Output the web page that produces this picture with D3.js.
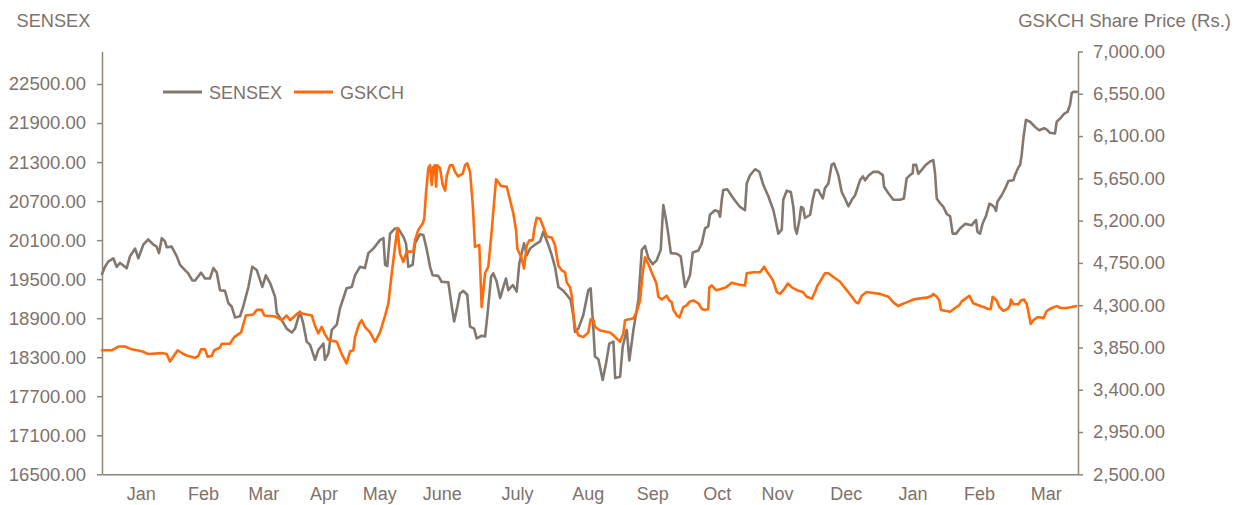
<!DOCTYPE html>
<html><head><meta charset="utf-8">
<script src="https://cdn.jsdelivr.net/npm/d3@7"></script>
<style>
html,body{margin:0;padding:0;background:#fff;}
svg{display:block;font-family:"Liberation Sans",Arial,sans-serif;}
</style>
</head><body>
<svg id="chart" width="1242" height="505"></svg>
<script>
// ---------- data ----------
const startDate = "2013-01-01";
const endDate = "2014-03-31";
const monthLabels = ["Jan","Feb","Mar","Apr","May","June","July","Aug","Sep","Oct","Nov","Dec","Jan","Feb","Mar"];
const monthTickDates = ["2013-01-19","2013-02-17","2013-03-17","2013-04-14","2013-05-10","2013-06-08","2013-07-13","2013-08-15","2013-09-14","2013-10-14","2013-11-11","2013-12-13","2014-01-13","2014-02-13","2014-03-16"];
const leftTicks = [16500,17100,17700,18300,18900,19500,20100,20700,21300,21900,22500];
const rightTicks = [2500,2950,3400,3850,4300,4750,5200,5650,6100,6550,7000];
const leftTitle = "SENSEX";
const rightTitle = "GSKCH Share Price (Rs.)";
const seriesNames = ["SENSEX","GSKCH"];

// [days since startDate, value]
const sensexData = [[0,19580],[1.4,19690],[2.9,19770],[5.3,19820],[6.8,19690],[8.4,19750],[11.5,19670],[13,19850],[15.4,19970],[16.9,19820],[19.2,20030],[21.5,20110],[23.9,20030],[25.4,20000],[26.5,19900],[27.8,20130],[29.3,20080],[30.1,19990],[32.4,20000],[34.8,19850],[36.3,19720],[38.6,19640],[40.1,19590],[42,19480],[43.3,19480],[46.1,19600],[47.9,19510],[50.2,19510],[51.8,19670],[53.4,19600],[54.9,19330],[57.2,19320],[58.8,19130],[60.3,19080],[61.9,18910],[64.2,18930],[65.7,19080],[68.1,19380],[69.9,19690],[72,19640],[73.5,19490],[74.6,19380],[76.2,19560],[78.2,19440],[80.5,19230],[81.3,18980],[83.6,18870],[85.9,18740],[88.3,18680],[89.8,18740],[92.1,19000],[93.6,18820],[95.2,18540],[96.8,18490],[99.1,18260],[100.6,18410],[103,18510],[103.7,18260],[105.3,18360],[106.9,18720],[109.2,18800],[110.7,19050],[112.3,19210],[113.8,19360],[116.2,19380],[117.7,19560],[120,19690],[122.3,19670],[123.9,19900],[126.2,19970],[129.3,20100],[130.9,20130],[131.7,19720],[132.7,19700],[134,20200],[136.3,20280],[137.8,20280],[140.2,20150],[141.4,20050],[142.5,19690],[144.5,19720],[145.6,20050],[147.9,20190],[149.5,20180],[151.1,19950],[152.6,19690],[153.8,19560],[156.4,19550],[158,19460],[161.1,19450],[162.7,19080],[163.8,18850],[165.3,19080],[166.5,19280],[168.1,19320],[169.9,19260],[171.2,18770],[173.1,18740],[174.3,18590],[176.6,18630],[178.2,18620],[179.2,18920],[181,19540],[182,19590],[183.6,19460],[185.2,19210],[186.7,19380],[187.9,19510],[189,19330],[191.1,19410],[192.9,19310],[194.1,19740],[196.3,20050],[197.6,19870],[199.1,19970],[201.4,20030],[203.8,20080],[205.3,20230],[207.6,20030],[209.2,19870],[210.7,19690],[212.3,19380],[214.3,19330],[216.2,19260],[218,19180],[219.3,18920],[220,18690],[221.6,18740],[223.9,18950],[226.2,19330],[227.3,19360],[228.6,18720],[229.3,18310],[230.9,18270],[232.9,17950],[234.5,18210],[236,18510],[237.9,18540],[238.7,17980],[241,18000],[242.2,18460],[244.1,18720],[245.3,18250],[247.2,18720],[249.5,19180],[251.1,19950],[252.6,20010],[254.1,19830],[256.2,19730],[258,19790],[259.9,19950],[261.1,20640],[262.4,20410],[263.4,20200],[264.6,19900],[267.4,19890],[269.2,19850],[271.2,19380],[273.5,19560],[274.8,19910],[277.4,19940],[279,20050],[280.5,20280],[282,20310],[282.8,20490],[285.1,20560],[286.7,20540],[287.5,20460],[288.3,20720],[289,20870],[290.9,20880],[293.7,20740],[296.8,20610],[299.1,20560],[299.9,20970],[301.5,21100],[303.8,21190],[305.8,21150],[307.6,20950],[310,20770],[312.3,20560],[313.5,20380],[314.6,20200],[316.2,20260],[316.9,20720],[318.5,20860],[320.4,20840],[321.6,20610],[322.4,20280],[323.2,20200],[324.4,20410],[325.2,20610],[326.2,20590],[327,20440],[329.4,20490],[330.6,20720],[331.7,20870],[333.2,20870],[335.3,20740],[336.3,20900],[337.9,20970],[339.4,21260],[340.5,21280],[342.5,21100],[343.3,20970],[344.1,20840],[345.6,20740],[347.2,20620],[348.8,20720],[350.3,20790],[352.6,21020],[353.9,21080],[355,21020],[356.5,21090],[358.8,21150],[361.1,21150],[363.2,21100],[363.8,20920],[365.8,20820],[368.1,20720],[371.2,20720],[373,20740],[374.3,21050],[375.9,21100],[377.1,21130],[377.4,21260],[378.7,21260],[379.7,21120],[381.3,21180],[383.3,21260],[385.2,21310],[386.7,21330],[387.5,21130],[388.3,20740],[389.8,20670],[391.4,20610],[393,20500],[394.5,20470],[395.7,20200],[397.3,20200],[399.1,20280],[401.5,20350],[404.6,20330],[405.7,20380],[406.6,20410],[407.2,20230],[408.4,20200],[409.7,20360],[411.2,20470],[412.8,20660],[413.9,20640],[415,20610],[415.9,20550],[416.5,20690],[418.5,20790],[420.5,20920],[421.6,21010],[423.9,21020],[424.7,21100],[426.3,21220],[427.1,21260],[427.8,21410],[428.6,21670],[429.8,21950],[431.7,21920],[434,21840],[436,21790],[438.2,21820],[439.5,21800],[441,21750],[443.3,21740],[444.1,21920],[445.7,21970],[447.5,22040],[449.1,22070],[450.3,22180],[451.1,22360],[451.9,22380],[453.4,22380]];

const gskchData = [[0,3820],[4.5,3820],[7.6,3860],[10.7,3860],[13.8,3830],[18.5,3810],[21.5,3780],[27.8,3790],[30.1,3780],[31.6,3700],[35.2,3820],[37.8,3780],[40.1,3760],[43.3,3740],[44.8,3760],[46.1,3830],[47.9,3830],[49.2,3750],[51,3760],[52.2,3820],[54.9,3850],[55.7,3890],[59.5,3890],[61.5,3960],[64.7,4010],[66.9,4190],[70.4,4200],[72,4250],[74.3,4250],[75.5,4190],[80.5,4180],[83.6,4140],[85.9,4190],[87.5,4140],[91.3,4220],[97.6,4190],[99.1,4080],[100.6,4000],[102.2,4070],[103.7,3990],[105.3,3930],[109.2,3910],[111.5,3780],[113.8,3680],[115.4,3810],[116.9,3820],[117.7,3960],[119.6,4100],[120.8,4140],[122.3,4070],[124.7,4010],[127,3910],[129.3,4010],[131.7,4190],[133.2,4320],[134.8,4640],[136.3,4920],[137.4,5120],[138.6,4850],[140.2,4760],[141.7,4870],[144.8,4870],[145.6,4990],[147.1,5100],[149.2,5170],[149.9,5220],[150.7,5490],[151.8,5760],[152.6,5790],[153.4,5580],[154.1,5770],[154.9,5790],[155.4,5560],[156,5790],[157.2,5760],[158.5,5580],[159.6,5520],[160.4,5680],[161.9,5790],[163.1,5790],[164.2,5720],[165.7,5670],[167.8,5700],[168.9,5790],[169.9,5810],[171.2,5720],[172.5,5360],[173.5,4920],[175.5,4940],[176.6,4280],[178.2,4640],[179.7,4710],[181.3,5100],[183.3,5640],[184.4,5610],[185.5,5570],[188.3,5560],[189.8,5420],[191.3,5280],[192.6,5100],[193.2,4900],[195.2,4800],[196.3,4690],[197.6,4940],[198.8,4990],[200.4,4990],[201,5100],[202.2,5230],[203.8,5220],[205.3,5130],[206.9,5030],[209.2,5020],[210.7,4940],[212.3,4720],[213.9,4670],[215.4,4650],[216.2,4540],[217.7,4490],[218.5,4400],[219.3,4210],[220,4070],[221.6,3980],[223.9,3960],[226.2,4010],[227.3,4150],[228.6,4140],[229.3,4070],[231.7,4030],[236.3,4010],[237.9,3980],[241,3910],[242.5,4000],[243.3,4140],[247.2,4160],[248.7,4230],[250.3,4350],[251.5,4640],[252.6,4810],[254.1,4740],[255.7,4650],[257.9,4530],[258.8,4390],[260.4,4360],[262.7,4400],[263.9,4350],[265,4330],[265.8,4250],[267.4,4190],[268.6,4170],[270.4,4280],[272,4300],[273.5,4340],[275.1,4350],[277.4,4320],[279,4260],[280.5,4250],[282,4260],[282.5,4490],[283.6,4510],[285.6,4460],[287.5,4470],[290.3,4490],[292.9,4540],[296,4520],[299.1,4510],[299.9,4640],[303,4650],[306.1,4650],[308,4710],[309.2,4660],[311.1,4600],[312.3,4550],[313.9,4440],[315.4,4420],[317.3,4470],[319,4530],[320.9,4490],[323.2,4460],[326,4440],[327.8,4390],[330.2,4370],[331.7,4440],[332.8,4510],[334,4550],[336.3,4640],[337.9,4640],[340.2,4600],[343.3,4550],[346.4,4460],[348.8,4390],[350.7,4330],[351.8,4320],[353.4,4400],[355.7,4440],[358.8,4430],[361.9,4420],[365.8,4390],[368.1,4330],[370.4,4290],[372,4310],[374.3,4330],[377.4,4360],[379.7,4370],[383.6,4380],[386,4400],[386.7,4420],[388.3,4390],[389.5,4350],[390.2,4250],[392.2,4240],[394.5,4230],[396.8,4270],[398.8,4300],[399.9,4340],[402.3,4380],[403.5,4400],[405.3,4320],[407.7,4300],[410,4280],[412.3,4260],[413.4,4260],[414.3,4390],[416.2,4350],[417.4,4280],[419.3,4240],[421.2,4260],[422.4,4300],[422.8,4360],[424,4310],[426.3,4310],[427.4,4350],[428.9,4360],[430.2,4310],[430.9,4230],[432,4100],[433.2,4140],[435.1,4170],[436.7,4170],[437.9,4160],[439.5,4240],[441.8,4270],[444.1,4290],[446,4270],[448.8,4270],[451.1,4280],[453.1,4290]];

// ---------- layout / style ----------
const W = 1242, H = 505;
const plot = {left: 102, right: 1078, top: 51.5, bottom: 474.3};
const textColor = "#7d726b";
const axisColor = "#8e847c";
const sensexColor = "#83786f";
const gskchColor = "#ff6b0b";

const svg = d3.select("#chart");
const parse = d3.utcParse("%Y-%m-%d");
const t0 = parse(startDate);
const toDate = d => new Date(t0.getTime() + d * 864e5);

const x = d3.scaleUtc().domain([t0, parse(endDate)]).range([plot.left, plot.right]);
const yL = d3.scaleLinear().domain([16500, 23000]).range([plot.bottom, plot.top]);
const yR = d3.scaleLinear().domain([2500, 7000]).range([plot.bottom, plot.top]);

function styleAxis(g, size) {
  g.selectAll(".domain").attr("stroke", axisColor).attr("stroke-width", 1.5);
  g.selectAll(".tick line").attr("stroke", axisColor).attr("stroke-width", 1.5);
  g.selectAll("text").attr("fill", textColor).attr("font-size", size)
    .attr("font-family", '"Liberation Sans", Arial, sans-serif');
}

// bottom axis
const gx = svg.append("g").attr("transform", `translate(0,${plot.bottom})`)
  .call(d3.axisBottom(x).tickValues(monthTickDates.map(parse))
    .tickFormat((d, i) => monthLabels[i]).tickSize(0).tickSizeOuter(0).tickPadding(13));
styleAxis(gx, 18);

// left axis
const gl = svg.append("g").attr("transform", `translate(${plot.left},0)`)
  .call(d3.axisLeft(yL).tickValues(leftTicks).tickFormat(d3.format(".2f"))
    .tickSize(5).tickSizeOuter(0).tickPadding(11));
styleAxis(gl, 18.5);

// right axis
const gr = svg.append("g").attr("transform", `translate(${plot.right},0)`)
  .call(d3.axisRight(yR).tickValues(rightTicks).tickFormat(d3.format(",.2f"))
    .tickSize(5).tickSizeOuter(0).tickPadding(10));
styleAxis(gr, 18.5);

// lines
const lineL = d3.line().x(d => x(toDate(d[0]))).y(d => yL(d[1]));
const lineR = d3.line().x(d => x(toDate(d[0]))).y(d => yR(d[1]));
svg.append("path").datum(sensexData).attr("d", lineL)
  .attr("fill", "none").attr("stroke", sensexColor).attr("stroke-width", 2.6)
  .attr("stroke-linejoin", "round").attr("stroke-linecap", "round");
svg.append("path").datum(gskchData).attr("d", lineR)
  .attr("fill", "none").attr("stroke", gskchColor).attr("stroke-width", 2.6)
  .attr("stroke-linejoin", "round").attr("stroke-linecap", "round");

// axis titles
svg.append("text").attr("x", 16.5).attr("y", 26.5).text(leftTitle)
  .attr("fill", textColor).attr("font-size", 18.2);
svg.append("text").attr("x", 1231).attr("y", 26.5).attr("text-anchor", "end").text(rightTitle)
  .attr("fill", textColor).attr("font-size", 18.5);

// legend
const legend = svg.append("g").attr("transform", "translate(163,92)");
const legItems = [{name: seriesNames[0], color: sensexColor, x: 0}, {name: seriesNames[1], color: gskchColor, x: 131}];
legItems.forEach(it => {
  legend.append("line").attr("x1", it.x).attr("x2", it.x + 39).attr("y1", 0).attr("y2", 0)
    .attr("stroke", it.color).attr("stroke-width", 3);
  legend.append("text").attr("x", it.x + 46).attr("y", 6.6).text(it.name)
    .attr("fill", textColor).attr("font-size", 18);
});
</script>
</body></html>
